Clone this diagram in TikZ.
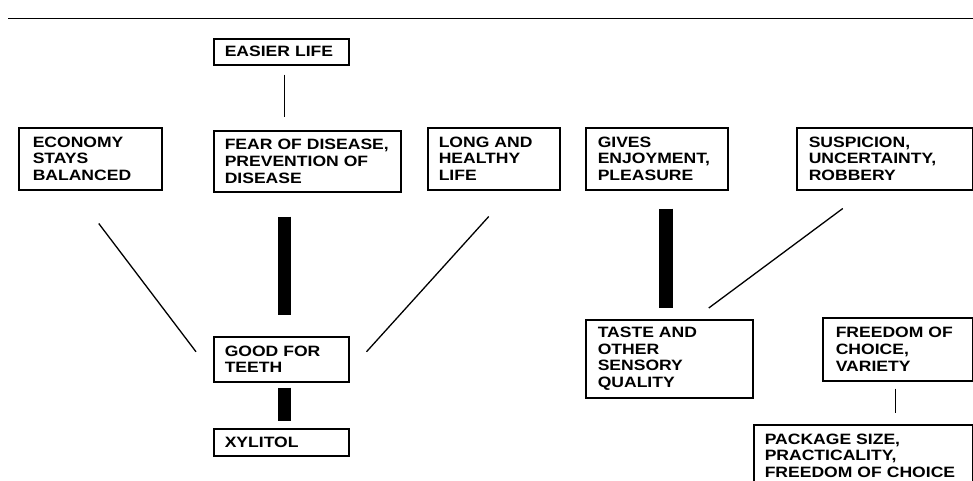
\documentclass[tikz,border=0pt]{standalone}
\usepackage{fontspec}
\setmainfont{Liberation Sans}[FakeStretch=1.17]
\usetikzlibrary{calc}
\begin{document}
\begin{tikzpicture}[x=1pt,y=-1pt,
  box/.style={draw, line width=1.5pt, rectangle, anchor=north west,
    inner xsep=11pt, inner ysep=0pt, align=left,
    font=\fontsize{15}{16.7}\selectfont\bfseries},
  thinlink/.style={line width=1.4pt},
  slant/.style={line width=1.3pt},
  bar/.style={line width=13.5pt}]
\useasboundingbox (0,0) rectangle (973,480);
\clip (0,0) rectangle (973,480);
\fill[white] (0,0) rectangle (973,480);

% header rule
\draw[line width=1.8pt] (8,18.5) -- (973,18.5);

% boxes
\node[box, text width=113pt, minimum height=26pt] (easier) at (213,38) {EASIER LIFE};
\node[box, inner xsep=14pt, text width=115pt, minimum height=62pt] (econ) at (18,127) {ECONOMY\\STAYS\\BALANCED};
\node[box, text width=165pt, minimum height=61pt] (fear) at (213,130) {FEAR OF DISEASE,\\PREVENTION OF\\DISEASE};
\node[box, text width=110pt, minimum height=62pt] (long) at (427,127) {LONG AND\\HEALTHY\\LIFE};
\node[box, inner xsep=12pt, text width=118pt, minimum height=62pt] (gives) at (585,127) {GIVES\\ENJOYMENT,\\PLEASURE};
\node[box, inner xsep=12pt, text width=152pt, minimum height=62pt] (susp) at (796,127) {SUSPICION,\\UNCERTAINTY,\\ROBBERY};
\node[box, text width=113pt, minimum height=45pt] (good) at (213,336) {GOOD FOR\\TEETH};
\node[box, text width=113pt, minimum height=27pt] (xyl) at (213,428) {XYLITOL};
\node[box, inner xsep=12pt, text width=143pt, minimum height=78pt] (taste) at (585,319) {TASTE AND\\OTHER\\SENSORY\\QUALITY};
\node[box, inner xsep=13pt, text width=124pt, minimum height=63pt] (free) at (822,317) {FREEDOM OF\\CHOICE,\\VARIETY};
\node[box, text width=197pt, minimum height=62pt] (pack) at (753,424) {PACKAGE SIZE,\\PRACTICALITY,\\FREEDOM OF CHOICE};

% links
\draw[thinlink] ($(easier.south)+(3.5,9)$) -- ($(fear.north)+(-22.5,-13)$);
\draw[bar] ($(fear.south)+(-23,24)$) -- ($(good.north)+(3,-21)$);
\draw[slant] ($(econ.south)+(8.5,33)$) -- ($(good.west)+(-17,-7.5)$);
\draw[slant] ($(long.south)+(-5,26)$) -- ($(good.east)+(17,-7.5)$);
\draw[bar] ($(good.south)+(3,5)$) -- ($(xyl.north)+(3,-7)$);
\draw[bar] ($(gives.south)+(9,18)$) -- ($(taste.north)+(-3.5,-11)$);
\draw[slant] ($(susp.south)+(-42,18)$) -- ($(taste.north)+(39.5,-11)$);
\draw[thinlink] ($(free.south)+(-2,7)$) -- ($(pack.north)+(32.5,-11)$);
\end{tikzpicture}
\end{document}
